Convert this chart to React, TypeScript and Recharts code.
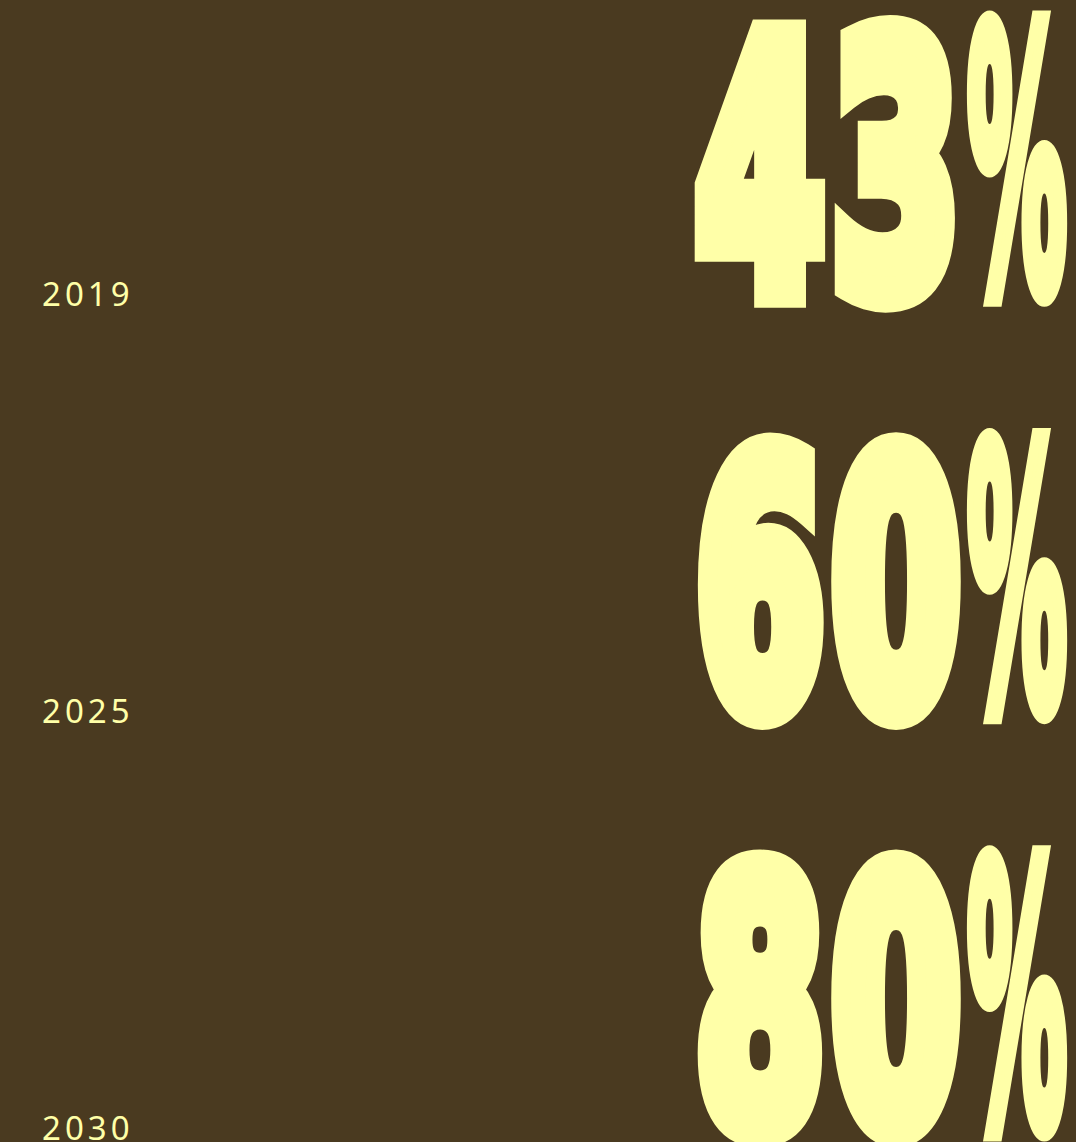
import React from 'react';
import { BarChart, Bar, XAxis, YAxis, LabelList } from 'recharts';

const years = ['2019', '2025', '2030'];
const shares = [43, 60, 80];

const BG = '#4a3a20';
const INK = '#ffffa8';

const data = years.map((year, i) => ({ year, value: shares[i] }));

// baseline sits this far below the centre of each row
const BASELINE_SHIFT = 81;
const DIGIT_STEP = 136;

const YearTick = (props: any) => {
  const { y, payload } = props;
  return (
    <text
      x={42}
      y={y + BASELINE_SHIFT + 16}
      fill={INK}
      fontFamily="'Noto Sans', sans-serif"
      fontSize={33}
      letterSpacing={4}
      textAnchor="start"
    >
      {payload.value}
    </text>
  );
};

const digitStyle = {
  fill: INK,
  stroke: INK,
  strokeWidth: 36,
  strokeLinejoin: 'miter' as const,
  fontFamily: "'DejaVu Sans', sans-serif",
  fontWeight: 700,
  fontSize: 346,
};

const pctStyle = { ...digitStyle, strokeWidth: 24, fontSize: 360 };

const BigLabel = (props: any) => {
  const { x, y, height, value } = props;
  const base = y + height / 2 + BASELINE_SHIFT;
  const chars = String(value).split('');
  return (
    <g>
      {chars.map((ch, i) => (
        <text
          key={i}
          x={x - 1 + i * DIGIT_STEP}
          y={base}
          textLength={128}
          lengthAdjust="spacingAndGlyphs"
          style={digitStyle}
        >
          {ch}
        </text>
      ))}
      <text x={x + 270} y={base} textLength={100} lengthAdjust="spacingAndGlyphs" style={pctStyle}>
        %
      </text>
    </g>
  );
};

export default function App() {
  return (
    <div style={{ width: 1076, height: 1142, overflow: 'hidden', background: BG }}>
      <style>{'body{margin:0}'}</style>
      <BarChart
        width={1076}
        height={1252}
        data={data}
        layout="vertical"
        margin={{ top: 0, right: 0, bottom: 0, left: 0 }}
      >
        <XAxis type="number" domain={[0, 100]} hide />
        <YAxis
          type="category"
          dataKey="year"
          width={697}
          axisLine={false}
          tickLine={false}
          tick={<YearTick />}
        />
        <Bar dataKey="value" fill="transparent" isAnimationActive={false}>
          <LabelList dataKey="value" content={<BigLabel />} />
        </Bar>
      </BarChart>
    </div>
  );
}
